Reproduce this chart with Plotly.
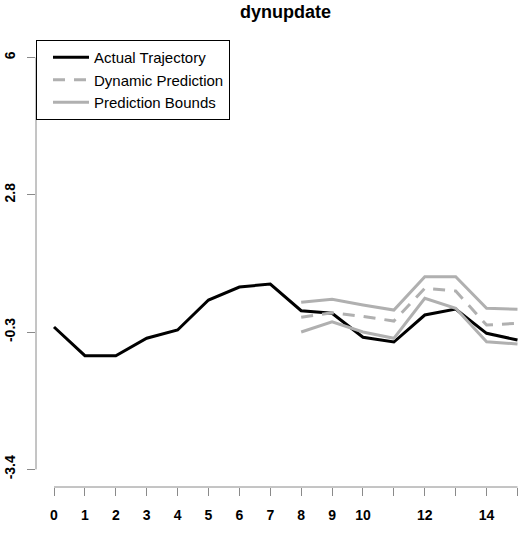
import plotly.graph_objects as go

# ---- data ----
t_actual = list(range(0, 16))
actual = [-0.165, -0.817, -0.817, -0.42, -0.233, 0.449, 0.744, 0.812,
          0.205, 0.146, -0.399, -0.506, 0.108, 0.244, -0.308, -0.46]

t_pred = list(range(8, 16))
pred = [0.055, 0.16, 0.074, -0.029, 0.715, 0.653, -0.12, -0.081]
upper = [0.396, 0.465, 0.335, 0.221, 0.978, 0.978, 0.260, 0.237]
lower = [-0.279, -0.045, -0.279, -0.422, 0.487, 0.26, -0.499, -0.551]

x_tickvals = list(range(0, 16))
x_ticktext = ["0", "1", "2", "3", "4", "5", "6", "7", "8", "9", "10", "", "12", "", "14", ""]
y_tickvals = [-3.4, -0.28, 2.84, 5.96]
y_ticktext = ["-3.4", "-0.3", "2.8", "6"]

FONT = "Liberation Sans, Arial, sans-serif"
GRAY = "#b0b0b0"
AXC = "#8a8a8a"

fig = go.Figure()
fig.add_trace(go.Scatter(x=t_actual, y=actual, mode="lines", name="Actual Trajectory",
                         line=dict(color="black", width=3)))
fig.add_trace(go.Scatter(x=t_pred, y=pred, mode="lines", name="Dynamic Prediction",
                         line=dict(color=GRAY, width=3, dash="12px,9px")))
fig.add_trace(go.Scatter(x=t_pred, y=upper, mode="lines", name="Prediction Bounds",
                         line=dict(color=GRAY, width=3)))
fig.add_trace(go.Scatter(x=t_pred, y=lower, mode="lines", name="Prediction Bounds",
                         line=dict(color=GRAY, width=3), showlegend=False))

# R-style axis lines spanning only the tick range
fig.add_shape(type="line", xref="x", yref="paper", x0=x_tickvals[0], x1=x_tickvals[-1],
              y0=0, y1=0, line=dict(color=AXC, width=1))
fig.add_shape(type="line", xref="paper", yref="y", x0=0, x1=0,
              y0=y_tickvals[0], y1=y_tickvals[-1], line=dict(color=AXC, width=1))

fig.add_annotation(text="<b>dynupdate</b>", xref="paper", yref="paper",
                   x=(285 - 36) / 489, y=1, xanchor="center", yanchor="top",
                   yshift=0, showarrow=False,
                   font=dict(family=FONT, size=18, color="black"))

fig.update_layout(
    width=525, height=545,
    margin=dict(l=36, r=0, t=0, b=58),
    paper_bgcolor="white", plot_bgcolor="white",
    showlegend=True,
    legend=dict(x=0, y=1 - 40 / 487, xanchor="left", yanchor="top",
                bordercolor="black", borderwidth=1, bgcolor="white",
                font=dict(family=FONT, size=15, color="black"),
                tracegroupgap=0, itemwidth=36, indentation=11),
    xaxis=dict(range=[-0.5825, 15.243], tickmode="array", tickvals=x_tickvals,
               ticktext=x_ticktext, ticks="outside", ticklen=8, tickcolor=AXC,
               ticklabelstandoff=7,
               showgrid=False, zeroline=False, showline=False,
               tickfont=dict(family=FONT, size=14, color="black", weight="bold")),
    yaxis=dict(range=[-3.801, 7.267], tickmode="array", tickvals=y_tickvals,
               ticktext=y_ticktext, ticks="outside", ticklen=8, tickcolor=AXC,
               ticklabelstandoff=6,
               tickangle=-90, showgrid=False, zeroline=False, showline=False,
               tickfont=dict(family=FONT, size=14, color="black", weight="bold")),
)

fig.write_html("out.html")
